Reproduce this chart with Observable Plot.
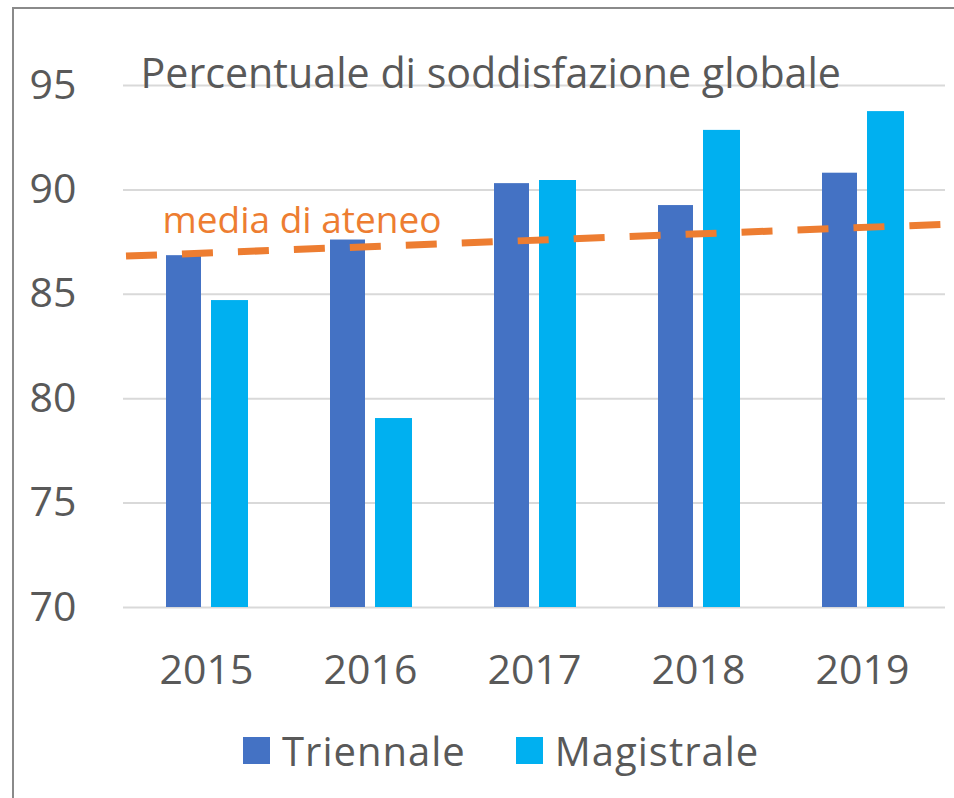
<!DOCTYPE html>
<html>
<head>
<meta charset="utf-8">
<script src="https://cdn.jsdelivr.net/npm/d3@7"></script>
<script src="https://cdn.jsdelivr.net/npm/@observablehq/plot@0.6"></script>
<style>
  html, body { margin: 0; padding: 0; background: #fff; width: 954px; height: 798px; overflow: hidden; }
  #border { position: absolute; left: 12px; top: 7px; width: 1000px; height: 1000px; border: 2px solid #8a8a8a; box-sizing: border-box; }
  #chart { position: absolute; left: 0; top: 0; }
  #legend { position: absolute; left: 243px; top: 723px; }
  #legend .lg-swatches { font-family: "Open Sans", sans-serif !important; font-size: 40px !important; letter-spacing: 1px; color: #595959 !important; margin: 0 !important; min-height: 0 !important; }
  #legend .lg-swatch { margin-right: 50px !important; }
  #legend .lg-swatch > svg { margin-right: 12px !important; }
</style>
</head>
<body>
<div id="border"></div>
<div id="chart"></div>
<div id="legend"></div>
<script>
// ---- data ----
const years = ["2015", "2016", "2017", "2018", "2019"];
const series = ["Triennale", "Magistrale"];
const triennale = [86.85, 87.6, 90.3, 89.25, 90.8];
const magistrale = [84.7, 79.05, 90.45, 92.85, 93.75];
const ateneo = [86.8, 88.33]; // "media di ateneo" dashed line: left edge, right edge
const yTicks = [70, 75, 80, 85, 90, 95];
const titleText = "Percentuale di soddisfazione globale";
const ateneoLabel = "media di ateneo";
const colors = ["#4472C4", "#00B0F0"];

const rows = years.flatMap((yr, i) => [
  {year: yr, series: series[0], value: triennale[i]},
  {year: yr, series: series[1], value: magistrale[i]}
]);

const textColor = "#595959";
const font = "'Open Sans', sans-serif";
const W = 954, H = 710;

const ateneoLine = (index, scales, values, dims) => {
  const y = scales.y;
  const line = d3.create("svg:line")
    .attr("x1", dims.marginLeft)
    .attr("x2", dims.width - dims.marginRight)
    .attr("y1", y(ateneo[0]))
    .attr("y2", y(ateneo[1]))
    .attr("stroke", "#ED7D31")
    .attr("stroke-width", 7)
    .attr("stroke-dasharray", "31 25")
    .attr("stroke-dashoffset", 53);
  return line.node();
};

const chart = Plot.plot({
  width: W,
  height: H,
  marginLeft: 123,
  marginRight: 9,
  marginTop: 85,
  marginBottom: H - 607,
  style: {fontFamily: font, fontSize: "41px", color: textColor, background: "transparent", overflow: "visible"},
  x: {domain: years, padding: 0, tickSize: 0, tickPadding: 47, label: null},
  y: {domain: [70, 95], ticks: yTicks, tickSize: 0, tickPadding: 47, label: null},
  color: {domain: series, range: colors},
  marks: [
    Plot.ruleY(yTicks, {stroke: "#d9d9d9", strokeWidth: 2}),
    Plot.barY(rows.filter(d => d.series === series[0]), {x: "year", y1: 70, y2: "value", fill: "series", insetLeft: 42, insetRight: 87}),
    Plot.barY(rows.filter(d => d.series === series[1]), {x: "year", y1: 70, y2: "value", fill: "series", insetLeft: 87, insetRight: 40}),
    ateneoLine,
    Plot.text([ateneoLabel], {text: d => d, y: ateneo[0], frameAnchor: "left", textAnchor: "start", lineAnchor: "bottom", dx: 39, dy: -24, fill: "#ED7D31", fontSize: 37}),
    Plot.text([titleText], {text: d => d, frameAnchor: "top-left", textAnchor: "start", lineAnchor: "bottom", dx: 17, dy: 2, fill: textColor, fontSize: 41.2})
  ]
});
document.getElementById("chart").appendChild(chart);

const legend = Plot.legend({
  color: {domain: series, range: colors},
  swatchSize: 27,
  className: "lg"
});
document.getElementById("legend").appendChild(legend);
</script>
</body>
</html>
